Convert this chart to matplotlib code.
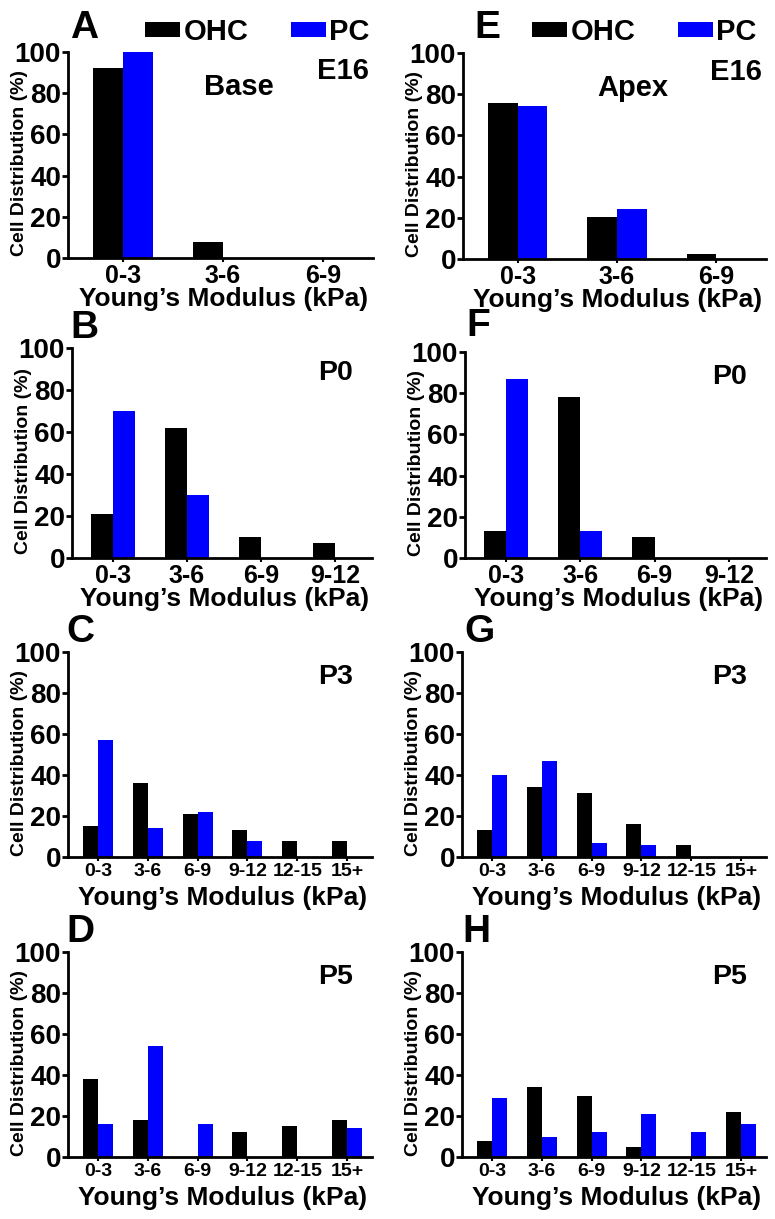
import matplotlib
matplotlib.use("Agg")
import matplotlib.pyplot as plt
import numpy as np

plt.rcParams["font.family"] = ["Liberation Sans", "DejaVu Sans"]
plt.rcParams["font.weight"] = "bold"

# data (cell distribution, %)
cats3 = ["0-3", "3-6", "6-9"]
cats4 = ["0-3", "3-6", "6-9", "9-12"]
cats6 = ["0-3", "3-6", "6-9", "9-12", "12-15", "15+"]

base_e16_ohc = [92, 8, 0]
base_e16_pc = [100, 0, 0]
apex_e16_ohc = [75.5, 20.5, 2.5]
apex_e16_pc = [74.5, 24.5, 0]

base_p0_ohc = [21, 62, 10, 7]
base_p0_pc = [70, 30, 0, 0]
apex_p0_ohc = [13, 78, 10, 0]
apex_p0_pc = [87, 13, 0, 0]

base_p3_ohc = [15, 36, 21, 13, 8, 8]
base_p3_pc = [57, 14, 22, 8, 0, 0]
apex_p3_ohc = [13, 34, 31, 16, 6, 0]
apex_p3_pc = [40, 47, 7, 6, 0, 0]

base_p5_ohc = [38, 18, 0, 12, 15, 18]
base_p5_pc = [16, 54, 16, 0, 0, 14]
apex_p5_ohc = [8, 34, 30, 5, 0, 22]
apex_p5_pc = [29, 10, 12, 21, 12, 16]

W, H = 775, 1219
fig = plt.figure(figsize=(W / 100, H / 100), dpi=100)

panels = [
    # letter, cats, ohc, pc, stage, box (left, right, top, bottom) in px, letter pos, legend x
    ("A", cats3, base_e16_ohc, base_e16_pc, "E16", (68, 373, 52, 258), (70, 28), 145),
    ("B", cats4, base_p0_ohc, base_p0_pc, "P0", (72, 372, 348, 558), (70, 328), None),
    ("C", cats6, base_p3_ohc, base_p3_pc, "P3", (68, 372, 652, 857), (66, 632), None),
    ("D", cats6, base_p5_ohc, base_p5_pc, "P5", (68, 372, 952, 1157), (66, 932), None),
    ("E", cats3, apex_e16_ohc, apex_e16_pc, "E16", (463, 766, 53, 259), (474, 28), 532),
    ("F", cats4, apex_p0_ohc, apex_p0_pc, "P0", (465, 766, 352, 558), (466, 326), None),
    ("G", cats6, apex_p3_ohc, apex_p3_pc, "P3", (462, 766, 652, 857), (464, 632), None),
    ("H", cats6, apex_p5_ohc, apex_p5_pc, "P5", (462, 766, 952, 1157), (462, 932), None),
]

w = 0.3
for letter, cats, ohc, pc, stage, (l, r, t, b), (lx, ly), legx in panels:
    ax = fig.add_axes([l / W, 1 - b / H, (r - l) / W, (b - t) / H])
    x = np.arange(len(cats))
    b1 = ax.bar(x - w / 2, ohc, w, color="black", label="OHC")
    b2 = ax.bar(x + w / 2, pc, w, color="#0000ff", label="PC")
    ax.set_ylim(0, 100)
    if len(cats) == 6:
        ax.set_xlim(-0.6, 5.5)
        tfs = 14
    else:
        ax.set_xlim(-0.55, len(cats) - 0.5)
        tfs = 18
    ax.set_xticks(x)
    ax.set_xticklabels(cats, fontsize=tfs, fontweight="bold")
    ax.set_yticks([0, 20, 40, 60, 80, 100])
    ax.set_yticklabels(["0", "20", "40", "60", "80", "100"], fontsize=20, fontweight="bold")
    ax.tick_params(axis="y", length=4, width=2, pad=1)
    ax.tick_params(axis="x", length=3, width=1.5, pad=1)
    for s in ["top", "right"]:
        ax.spines[s].set_visible(False)
    for s in ["left", "bottom"]:
        ax.spines[s].set_linewidth(2)
    ax.set_xlabel("Young\u2019s Modulus (kPa)", fontsize=19, fontweight="bold")
    ax.xaxis.set_label_coords(0.51, -29 / (b - t))
    ax.set_ylabel("Cell Distribution (%)", fontsize=14, fontweight="bold")
    ax.yaxis.set_label_coords(-40 / (r - l), 0.46)
    fig.text(lx / W, 1 - ly / H, letter, fontsize=28, fontweight="bold", ha="left", va="center")
    if stage == "E16":
        ax.text(0.9, 0.91, stage, transform=ax.transAxes, fontsize=21, fontweight="bold",
                ha="center", va="center")
        ax.text(0.56, 0.83, "Base" if letter == "A" else "Apex", transform=ax.transAxes,
                fontsize=21, fontweight="bold", ha="center", va="center")
        ax.legend(handles=[b1, b2], loc="center left", bbox_to_anchor=(legx / W, 1 - 32 / H),
                  bbox_transform=fig.transFigure,
                  ncol=2, frameon=False, fontsize=21, handlelength=1.2, handleheight=0.45,
                  handletextpad=0.12, columnspacing=1.45, borderaxespad=0, borderpad=0)
    else:
        ax.text(0.88, 0.88, stage, transform=ax.transAxes, fontsize=20.5, fontweight="bold",
                ha="center", va="center")

fig.savefig("out.png", dpi=100)
